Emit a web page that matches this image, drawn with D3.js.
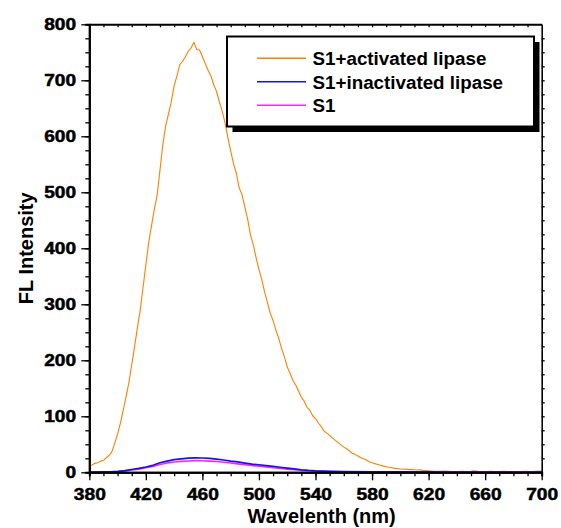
<!DOCTYPE html>
<html>
<head>
<meta charset="utf-8">
<script src="https://cdn.jsdelivr.net/npm/d3@7"></script>
<style>
  html, body { margin: 0; padding: 0; background: #fff; }
  svg { display: block; }
</style>
</head>
<body>
<svg id="chart" width="561" height="528"></svg>
<script>
// Fluorescence emission spectra (wavelength in nm, intensity in a.u.)
const wlActivated = [
  380,382,384,386,388,390,392,394,396,398,400,402,404,406,408,410,412,414,416,418,
  420,422,424,426,428,430,432,434,436,438,440,442,444,446,448,450,452,454,456,458,
  460,462,464,466,468,470,472,474,476,478,480,482,484,486,488,490,492,494,496,498,
  500,502,504,506,508,510,512,514,516,518,520,522,524,526,528,530,532,534,536,538,
  540,542,544,546,548,550,552,554,556,558,560,562,564,566,568,570,572,574,576,578,
  580,582,584,586,588,590,592,594,596,598,600,602,604,606,608,610,612,614,616,618,
  620,624,628,632,636,640,644,648,652,656,660,664,668,672,676,680,684,688,692,696,700
];
const activated = [
  12,13,16,17,20,21,26,30,37,52,68,88,111,135,160,192,224,258,289,330,
  370,410,440,470,495,540,585,618,640,662,690,708,728,734,742,752,758,768,755,754,
  742,730,718,708,692,680,662,645,624,598,574,551,534,508,496,474,452,424,406,383,
  362,344,322,303,284,271,254,239,221,206,188,177,164,156,145,134,127,116,111,101,
  96,88,82,74,70,66,61,57,53,49,45,42,38,34,32,29,26,24,22,19,
  17,15.5,14,12.5,11,10,9,8.2,7,6.5,6,5.5,5.8,4.8,5,4.5,4,4.3,3.5,3,
  2.6,2,1.8,2.2,1.5,1.2,1.8,1.0,2.5,1.4,1.0,1.8,0.8,2.0,1.2,1.5,0.9,2.0,1.4,1.8,2.2
];

const wlLow = [
  380,385,390,395,400,405,410,415,420,425,430,435,440,445,450,455,460,465,470,475,
  480,485,490,495,500,505,510,515,520,525,530,535,540,550,560,580,600,640,700
];
const inactivated = [
  0.5,0.5,0.7,1,1.5,3,5,7,9.5,12.5,17,20,22.5,24,25.3,25.8,25.5,24.8,23.5,22,
  20,18.5,16.5,14.5,13.5,12,10.5,9,7.5,6,4.5,3.3,2.5,1.7,1.2,0.8,0.6,0.5,0.5
];
const probeOnly = [
  0.3,0.4,0.5,0.7,1,2,4,5.5,8,10.5,14,16.5,18.5,19.5,20.3,20.8,20.6,20,19.2,18,
  16.5,15,13.5,12,11,9.5,8,6.8,5.5,4.5,3.5,2.8,2.2,1.5,1,0.6,0.4,0.3,0.3
];

const seriesNames = ["S1+activated lipase", "S1+inactivated lipase", "S1"];
const seriesColors = ["#ff8000", "#1414e6", "#ff22ff"];
const xTicks = [380, 420, 460, 500, 540, 580, 620, 660, 700];
const yTicks = [0, 100, 200, 300, 400, 500, 600, 700, 800];
const xTitle = "Wavelenth (nm)";
const yTitle = "FL Intensity";

const svg = d3.select("#chart");
const plotL = 89.3, plotR = 541.7, plotT = 24.3, plotB = 472.3;

const x = d3.scaleLinear().domain([380, 700]).range([plotL, plotR]);
const y = d3.scaleLinear().domain([0, 800]).range([plotB, plotT]);

// curves: activated first, then S1, then inactivated on top
const line = d3.line().x(d => x(d[0])).y(d => y(d[1]));
const curves = [
  { pts: d3.zip(wlActivated, activated), color: seriesColors[0], w: 1.1 },
  { pts: d3.zip(wlLow, probeOnly), color: seriesColors[2], w: 1.6 },
  { pts: d3.zip(wlLow, inactivated), color: seriesColors[1], w: 1.7 }
];
svg.append("g").selectAll("path").data(curves).join("path")
  .attr("d", d => line(d.pts))
  .attr("fill", "none")
  .attr("stroke", d => d.color)
  .attr("stroke-width", d => d.w)
  .attr("stroke-linejoin", "round");

// axes
function styleAxis(g, width) {
  g.select(".domain").attr("stroke", "#000").attr("stroke-width", width);
  g.selectAll(".tick line").attr("stroke", "#000").attr("stroke-width", 1.3);
}

// bottom minor + major
svg.append("g").attr("transform", `translate(0,${plotB})`)
  .call(d3.axisBottom(x).tickValues(d3.range(380, 701, 10)).tickSize(4).tickFormat(""))
  .call(g => styleAxis(g, 2));
const xAxis = svg.append("g").attr("transform", `translate(0,${plotB})`)
  .call(d3.axisBottom(x).tickValues(xTicks).tickSize(8).tickSizeOuter(0).tickFormat(d3.format("d")))
  .call(g => styleAxis(g, 2));
xAxis.selectAll("text")
  .attr("y", 16).attr("dy", "0.71em")
  .attr("transform", "scale(1.13,1)")
  .attr("font-family", "'Liberation Sans', Arial, sans-serif")
  .attr("font-weight", "bold").attr("font-size", 17).attr("fill", "#000")
  .attr("stroke", "#000").attr("stroke-width", 0.5);

// left minor + major
svg.append("g").attr("transform", `translate(${plotL},0)`)
  .call(d3.axisLeft(y).tickValues(d3.range(0, 801, 25)).tickSize(4).tickFormat(""))
  .call(g => styleAxis(g, 2));
const yAxis = svg.append("g").attr("transform", `translate(${plotL},0)`)
  .call(d3.axisLeft(y).tickValues(yTicks).tickSize(8).tickSizeOuter(0).tickFormat(d3.format("d")))
  .call(g => styleAxis(g, 2));
yAxis.selectAll("text")
  .attr("x", -11.2).attr("dy", "0.35em")
  .attr("transform", "scale(1.19,1)")
  .attr("font-family", "'Liberation Sans', Arial, sans-serif")
  .attr("font-weight", "bold").attr("font-size", 16).attr("fill", "#000")
  .attr("stroke", "#000").attr("stroke-width", 0.5);

// top and right frame with small ticks
svg.append("g").attr("transform", `translate(0,${plotT})`)
  .call(d3.axisBottom(x).tickValues(d3.range(390, 700, 10)).tickSize(3).tickSizeOuter(0).tickFormat(""))
  .call(g => styleAxis(g, 2));
svg.append("g").attr("transform", `translate(${plotR},0)`)
  .call(d3.axisRight(y).tickValues(d3.range(25, 800, 25)).tickSize(3).tickSizeOuter(0).tickFormat(""))
  .call(g => styleAxis(g, 1.6));

// axis titles
svg.append("text")
  .attr("x", 321.7).attr("y", 523)
  .attr("text-anchor", "middle")
  .attr("font-family", "'Liberation Sans', Arial, sans-serif")
  .attr("font-weight", "bold").attr("font-size", 20)
  .text(xTitle);
svg.append("text")
  .attr("transform", `translate(33,${(plotT + plotB) / 2}) rotate(-90)`)
  .attr("text-anchor", "middle")
  .attr("font-family", "'Liberation Sans', Arial, sans-serif")
  .attr("font-weight", "bold").attr("font-size", 20)
  .text(yTitle);

// legend with drop shadow
const lg = svg.append("g");
const lx = 227, ly = 36.5, lw = 307, lh = 90;
lg.append("rect").attr("x", lx + 5.5).attr("y", ly + 5.5).attr("width", lw).attr("height", lh)
  .attr("fill", "#000");
lg.append("rect").attr("x", lx).attr("y", ly).attr("width", lw).attr("height", lh)
  .attr("fill", "#fff").attr("stroke", "#000").attr("stroke-width", 2);
const rows = lg.selectAll("g.row").data(seriesNames).join("g")
  .attr("class", "row")
  .attr("transform", (d, i) => `translate(0,${58.3 + i * 23.5})`);
rows.append("line")
  .attr("x1", 257).attr("x2", 306).attr("y1", 0).attr("y2", 0)
  .attr("stroke", (d, i) => seriesColors[i]).attr("stroke-width", 1.4);
rows.append("text")
  .attr("x", 312.5).attr("y", 6.7)
  .attr("font-family", "'Liberation Sans', Arial, sans-serif")
  .attr("font-weight", "bold").attr("font-size", 18.8)
  .text(d => d);
</script>
</body>
</html>
